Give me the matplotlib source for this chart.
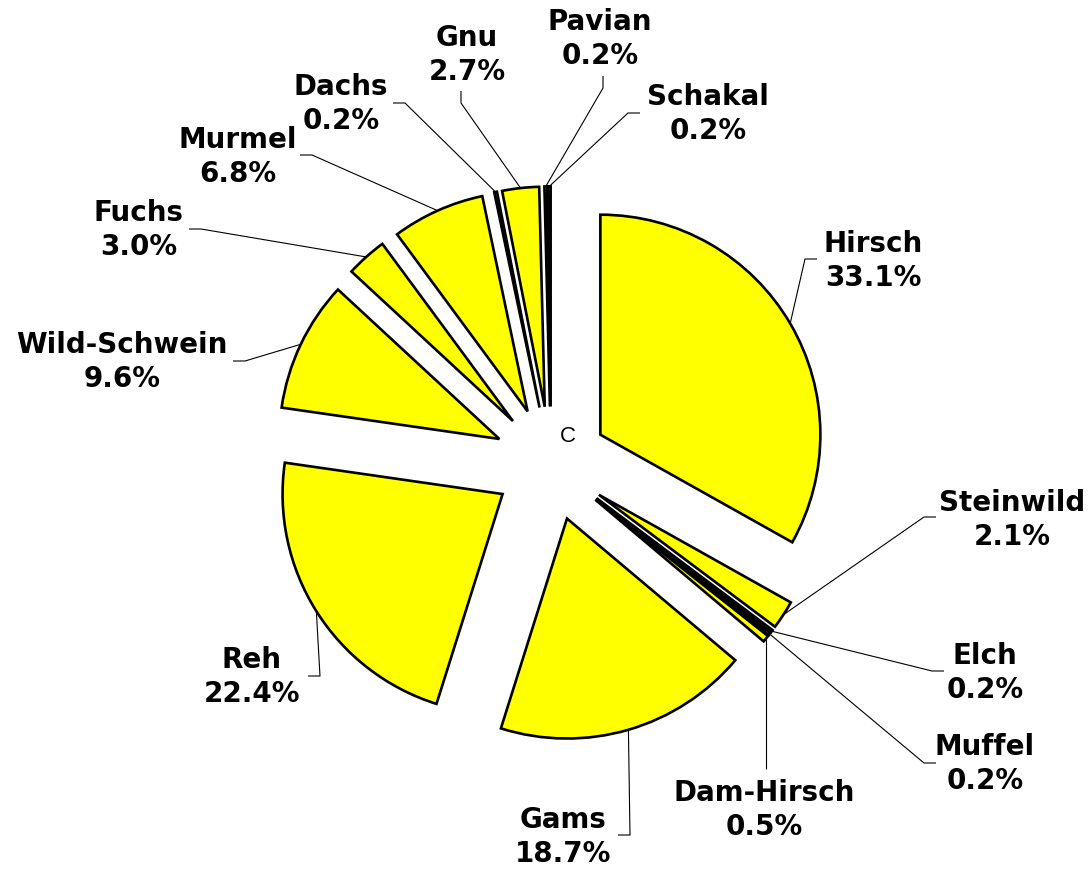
import numpy as np
import matplotlib
matplotlib.use("Agg")
import matplotlib.pyplot as plt

# data, clockwise from 12 o'clock
animals = ['Hirsch', 'Steinwild', 'Elch', 'Muffel', 'Dam-Hirsch', 'Gams', 'Reh',
           'Wild-Schwein', 'Fuchs', 'Murmel', 'Dachs', 'Gnu', 'Pavian', 'Schakal']
shares = [33.1, 2.1, 0.2, 0.2, 0.5, 18.7, 22.4, 9.6, 3.0, 6.8, 0.2, 2.7, 0.2, 0.2]

# layout (pixels): label centre, leader stub end, side the stub comes from
W, H = 1090, 870
CX, CY, R = 551, 464.6, 220.0
label_pos = [(873, 261), (1012, 520), (985, 673), (985, 764), (764, 810), (563, 837),
             (252, 677), (122, 362), (139, 230), (238, 157), (341, 104), (467, 55),
             (600, 39), (708, 114)]
stub_end = [(817, 260), (936, 518), (944, 672), (936, 764), (764, 770), (618, 836),
            (308, 677), (233, 362), (189, 230), (300, 156), (393, 104), (461, 92),
            (603, 77), (640, 114)]
stub_dir = ['l', 'l', 'l', 'l', 'v', 'r', 'r', 'r', 'r', 'r', 'r', 'b', 'b', 'l']
STUB = 12

def px(x, y):
    # pixel -> data coords (1 unit = pie radius)
    return (x - CX) / R, (CY - y) / R

explode = 0.26

fig = plt.figure(figsize=(W / 100, H / 100), dpi=100)
ax = fig.add_axes([0, 0, 1, 1])
wedges, _ = ax.pie(shares, startangle=90, counterclock=False, radius=1,
                   explode=[explode] * len(shares), normalize=True,
                   colors=['#ffff00'] * len(shares),
                   wedgeprops=dict(edgecolor='black', linewidth=1.9))

for w, name, val, lp, se, sd in zip(wedges, animals, shares, label_pos, stub_end, stub_dir):
    mid = np.deg2rad((w.theta1 + w.theta2) / 2)
    ax0 = (1 + explode) * np.cos(mid)
    ay0 = (1 + explode) * np.sin(mid)
    ex, ey = px(*se)
    s = STUB / R
    if sd == 'l':
        bx, by = ex - s, ey
    elif sd == 'r':
        bx, by = ex + s, ey
    elif sd == 'b':
        bx, by = ex, ey - s
    else:  # straight vertical drop from the wedge
        ex = ax0
        bx, by = ex, ey
    ax.plot([ax0, bx, ex], [ay0, by, ey], color='black', lw=0.8,
            solid_capstyle='butt')
    tx, ty = px(*lp)
    ax.text(tx, ty, f'{name}\n{val:.1f}%', ha='center', va='center',
            fontsize=20, fontweight='bold', family='DejaVu Sans', linespacing=1.3)

cx, cy = px(568, 437)
ax.text(cx, cy, 'C', ha='center', va='center', fontsize=16, family='Liberation Sans')

ax.set_xlim(-CX / R, (W - CX) / R)
ax.set_ylim((CY - H) / R, CY / R)
ax.set_aspect('equal')
ax.axis('off')

fig.savefig('out.png', dpi=100, facecolor='white')
